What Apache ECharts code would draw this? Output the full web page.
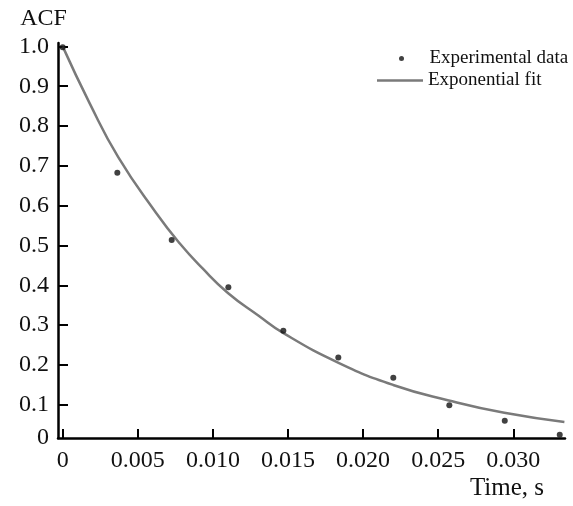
<!DOCTYPE html>
<html>
<head>
<meta charset="utf-8">
<script src="https://cdn.jsdelivr.net/npm/echarts@6/dist/echarts.min.js"></script>
<style>
html,body{margin:0;padding:0;background:#fff;}
#chart{width:573px;height:506px;}
</style>
</head>
<body>
<div id="chart"></div>
<script>
// Experimental data (time in s, ACF)
const expTime = [0, 0.00364, 0.00726, 0.01103, 0.01469, 0.01835, 0.02201, 0.02574, 0.02943, 0.03309];
const expAcf  = [0.998, 0.683, 0.514, 0.395, 0.286, 0.219, 0.168, 0.099, 0.060, 0.025];

// Exponential fit curve
const fitTime = [0, 0.0018, 0.0037, 0.0062, 0.0078, 0.0093, 0.0110, 0.0130, 0.0147, 0.0184, 0.0220, 0.0257, 0.0294, 0.0334];
const fitAcf  = [1.0, 0.857, 0.722, 0.583, 0.505, 0.443, 0.381, 0.325, 0.280, 0.205, 0.150, 0.111, 0.080, 0.057];

// Tick labels
const xTicks = [0, 0.005, 0.010, 0.015, 0.020, 0.025, 0.030];
const yTicks = [0.1, 0.2, 0.3, 0.4, 0.5, 0.6, 0.7, 0.8, 0.9, 1.0];

// Axis extents (axes cross slightly off the zero values in the original)
const X_MIN = -0.00031, X_MAX = 0.03344;
const Y_MIN = 0.0168, Y_MAX = 1.0085;

const FONT = '"Liberation Serif", "DejaVu Serif", serif';

const chart = echarts.init(document.getElementById('chart'), null, {renderer: 'canvas'});
chart.setOption({
  animation: false,
  backgroundColor: '#ffffff',
  grid: {left: 58, right: 8, top: 43, bottom: 68, containLabel: false, outerBoundsMode: 'none'},
  legend: [
    {
      data: ['Experimental data'],
      orient: 'vertical', left: 399, top: 49, padding: 0,
      itemWidth: 46, itemHeight: 5,
      textStyle: {fontFamily: FONT, fontSize: 19, color: '#111', padding: [6, 0, 0, 0]}
    },
    {
      data: [{name: 'Exponential fit', icon: 'rect'}],
      orient: 'vertical', left: 377, top: 71, padding: 0,
      itemWidth: 46, itemHeight: 2.5,
      textStyle: {fontFamily: FONT, fontSize: 19, color: '#111', padding: [5, 0, 0, 0]}
    }
  ],
  xAxis: {
    type: 'value', min: X_MIN, max: X_MAX,
    name: 'Time, s', nameLocation: 'end', nameGap: 0,
    nameTextStyle: {fontFamily: FONT, fontSize: 25, color: '#111', align: 'right', verticalAlign: 'top', padding: [38, 21, 0, 0]},
    axisLine: {show: true, onZero: false, lineStyle: {color: '#000', width: 2.5}},
    axisTick: {show: true, inside: true, length: 9, customValues: xTicks, lineStyle: {color: '#000', width: 2}},
    axisLabel: {
      customValues: xTicks, margin: 11,
      fontFamily: FONT, fontSize: 24, color: '#111',
      formatter: v => (Math.abs(v) < 1e-9 ? '0' : v.toFixed(3))
    },
    splitLine: {show: false}
  },
  yAxis: {
    type: 'value', min: Y_MIN, max: Y_MAX,
    name: 'ACF', nameLocation: 'end', nameGap: 12,
    nameTextStyle: {fontFamily: FONT, fontSize: 24, color: '#111', align: 'center', padding: [0, 29, 0, 0]},
    axisLine: {show: true, onZero: false, lineStyle: {color: '#000', width: 2.5}},
    axisTick: {show: true, inside: true, length: 10, customValues: yTicks, lineStyle: {color: '#000', width: 2}},
    axisLabel: {
      customValues: [Y_MIN].concat(yTicks), margin: 9,
      fontFamily: FONT, fontSize: 24, color: '#111',
      formatter: v => (v < 0.05 ? '0' : v.toFixed(1))
    },
    splitLine: {show: false}
  },
  series: [
    {
      name: 'Exponential fit', type: 'line',
      data: fitTime.map((t, i) => [t, fitAcf[i]]),
      smooth: 0.5,
      symbol: 'none',
      lineStyle: {color: '#7a7a7a', width: 2.5},
      itemStyle: {color: '#7a7a7a'},
      z: 2
    },
    {
      name: 'Experimental data', type: 'scatter',
      data: expTime.map((t, i) => [t, expAcf[i]]),
      symbol: 'circle', symbolSize: 6,
      itemStyle: {color: '#111'},
      z: 3
    }
  ]
});
</script>
</body>
</html>
